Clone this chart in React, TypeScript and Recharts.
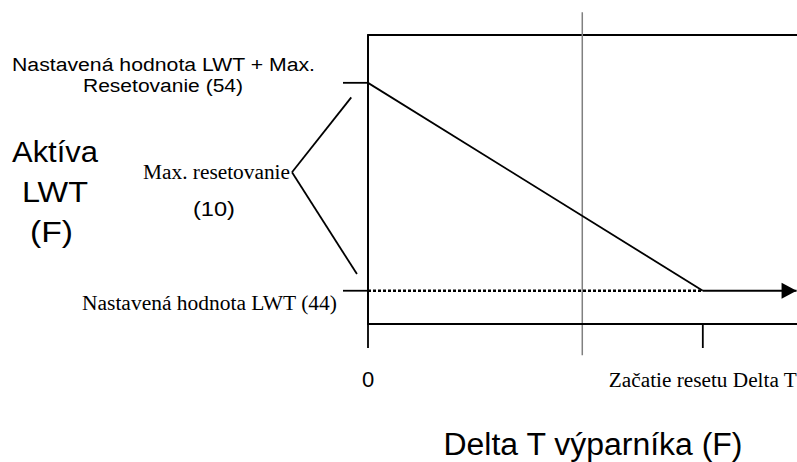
import { LineChart, Line, XAxis, YAxis, ReferenceLine, ReferenceArea } from "recharts";

// Delta T (F) on x, active LWT (F) on y
const RESET_DELTA = [0, 10];
const RESET_LWT = [54, 44];
const SETPOINT_DELTA = [0, 10];
const SETPOINT_LWT = [44, 44];
const ARROW_DELTA = [10, 12.8];
const ARROW_LWT = [44, 44];
const MID_DELTA = 6.4;

const X_TICKS = [0, 10];
const X_TICK_LABELS = ["0", "Začatie resetu Delta T"];
const Y_TICKS = [44, 54];

const X_DOMAIN: [number, number] = [0, 13.5];
const Y_DOMAIN: [number, number] = [42.4, 56.3];

// bracket pointing at the reset span (annotation)
const BRACKET_DELTA = [-0.5, -2.27, -0.33];
const BRACKET_LWT = [53.3, 49.7, 44.8];

const zip = (xs: number[], ys: number[]) => xs.map((x, i) => ({ delta: x, lwt: ys[i] }));

const resetData = zip(RESET_DELTA, RESET_LWT);
const setpointData = zip(SETPOINT_DELTA, SETPOINT_LWT);
const arrowData = zip(ARROW_DELTA, ARROW_LWT);
const bracket = BRACKET_DELTA.map((x, i) => ({ x, y: BRACKET_LWT[i] }));

const ARIAL = "Arial, 'Liberation Sans', sans-serif";
const TIMES = "'Times New Roman', 'Liberation Serif', serif";
const LINE_W = 1.8;

function XTick(props: { x?: number; y?: number; payload?: { value: number } }) {
  const { x = 0, y = 0, payload } = props;
  const idx = X_TICKS.indexOf(payload?.value ?? -1);
  if (idx === 0) {
    return (
      <text x={x} y={y + 39} textAnchor="middle" fontFamily={ARIAL} fontSize={22} fill="#000">
        {X_TICK_LABELS[0]}
      </text>
    );
  }
  return (
    <text
      x={x}
      y={y + 39}
      textAnchor="middle"
      fontFamily={TIMES}
      fontSize={20}
      fill="#000"
      textLength={188}
      lengthAdjust="spacingAndGlyphs"
    >
      {X_TICK_LABELS[idx]}
    </text>
  );
}

function YTick(props: { y?: number; payload?: { value: number } }) {
  const { y = 0, payload } = props;
  if (payload?.value === 54) {
    return (
      <g fill="#000" fontFamily={ARIAL} fontSize={18}>
        <text x={12} y={y - 12} textLength={303} lengthAdjust="spacingAndGlyphs">
          Nastavená hodnota LWT + Max.
        </text>
        <text x={83} y={y + 9} textLength={160} lengthAdjust="spacingAndGlyphs">
          Resetovanie (54)
        </text>
      </g>
    );
  }
  return (
    <text
      x={82}
      y={y + 19}
      fill="#000"
      fontFamily={TIMES}
      fontSize={20}
      textLength={255}
      lengthAdjust="spacingAndGlyphs"
    >
      Nastavená hodnota LWT (44)
    </text>
  );
}

function YTitle() {
  return (
    <g fill="#000">
      <g fontFamily={ARIAL} fontSize={30}>
        <text x={12} y={162} textLength={86} lengthAdjust="spacingAndGlyphs">Aktíva</text>
        <text x={22} y={202} textLength={66} lengthAdjust="spacingAndGlyphs">LWT</text>
        <text x={30} y={242} textLength={43} lengthAdjust="spacingAndGlyphs">(F)</text>
      </g>
      <text x={143} y={179} fontFamily={TIMES} fontSize={20} textLength={147} lengthAdjust="spacingAndGlyphs">
        Max. resetovanie
      </text>
      <text x={193} y={216} fontFamily={ARIAL} fontSize={21} textLength={42} lengthAdjust="spacingAndGlyphs">
        (10)
      </text>
    </g>
  );
}

function XTitle(props: { viewBox?: { x: number; y: number; width: number } }) {
  const vb = props.viewBox ?? { x: 0, y: 0, width: 0 };
  return (
    <text
      x={vb.x + vb.width / 2 - 1}
      y={vb.y + 131}
      textAnchor="middle"
      fontFamily={ARIAL}
      fontSize={31}
      fill="#000"
      textLength={299}
      lengthAdjust="spacingAndGlyphs"
    >
      Delta T výparníka (F)
    </text>
  );
}

function ArrowHead(props: { cx?: number; cy?: number; index?: number }) {
  const { cx = 0, cy = 0, index } = props;
  if (index !== ARROW_DELTA.length - 1) return <g />;
  return <polygon points={`${cx},${cy} ${cx - 15},${cy - 8} ${cx - 15},${cy + 8}`} fill="#000" />;
}

export default function App() {
  return (
    <div
      style={{
        position: "absolute",
        left: 0,
        top: 0,
        width: 797,
        height: 462,
        overflow: "hidden",
        background: "#fff",
      }}
    >
      <LineChart width={830} height={462} margin={{ top: 35, right: 10, bottom: 78, left: 308 }}>
        <XAxis
          type="number"
          dataKey="delta"
          domain={X_DOMAIN}
          allowDataOverflow
          ticks={X_TICKS}
          tickSize={24}
          tickMargin={0}
          height={60}
          axisLine={{ stroke: "#000", strokeWidth: LINE_W }}
          tickLine={{ stroke: "#000", strokeWidth: LINE_W }}
          tick={<XTick />}
          label={{ content: <XTitle /> }}
        />
        <YAxis
          type="number"
          dataKey="lwt"
          domain={Y_DOMAIN}
          allowDataOverflow
          ticks={Y_TICKS}
          tickSize={25}
          width={60}
          axisLine={{ stroke: "#000", strokeWidth: LINE_W }}
          tickLine={{ stroke: "#000", strokeWidth: LINE_W }}
          tick={<YTick />}
          label={{ content: <YTitle /> }}
        />
        <ReferenceArea
          x1={X_DOMAIN[0]}
          x2={X_DOMAIN[1]}
          y1={Y_DOMAIN[0]}
          y2={Y_DOMAIN[1]}
          fill="none"
          stroke="#000"
          strokeWidth={LINE_W}
          ifOverflow="visible"
        />
        <ReferenceLine
          segment={[
            { x: MID_DELTA, y: 57.4 },
            { x: MID_DELTA, y: 40.9 },
          ]}
          stroke="#808080"
          strokeWidth={1.5}
          ifOverflow="visible"
        />
        <ReferenceLine segment={[bracket[0], bracket[1]]} stroke="#000" strokeWidth={LINE_W} ifOverflow="visible" />
        <ReferenceLine segment={[bracket[1], bracket[2]]} stroke="#000" strokeWidth={LINE_W} ifOverflow="visible" />
        <Line
          data={setpointData}
          dataKey="lwt"
          type="linear"
          stroke="#000"
          strokeWidth={2.5}
          strokeDasharray="3 2"
          dot={false}
          isAnimationActive={false}
        />
        <Line
          data={resetData}
          dataKey="lwt"
          type="linear"
          stroke="#000"
          strokeWidth={LINE_W}
          dot={false}
          isAnimationActive={false}
        />
        <Line
          data={arrowData}
          dataKey="lwt"
          type="linear"
          stroke="#000"
          strokeWidth={2}
          dot={(p: { cx?: number; cy?: number; index?: number }) => <ArrowHead key={`a-${p.index}`} {...p} />}
          isAnimationActive={false}
        />
      </LineChart>
    </div>
  );
}
